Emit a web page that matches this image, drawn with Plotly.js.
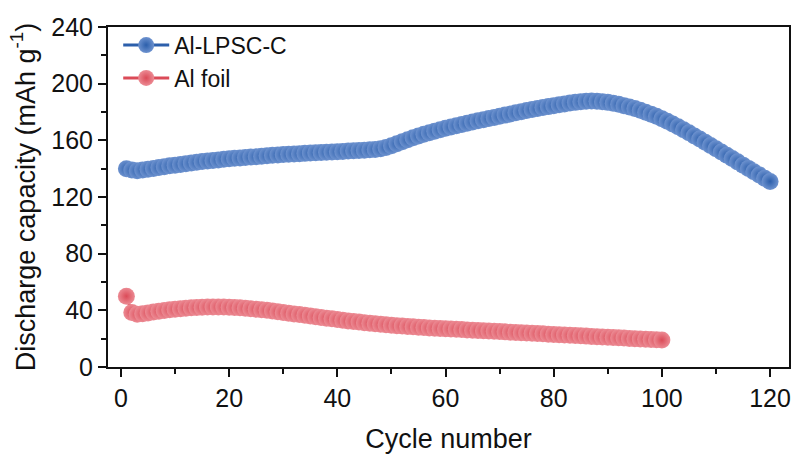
<!DOCTYPE html>
<html>
<head>
<meta charset="utf-8">
<script src="https://cdn.plot.ly/plotly-3.0.1.min.js"></script>
<style>html,body{margin:0;padding:0;background:#fff;}#chart{width:798px;height:457px;}</style>
</head>
<body>
<div id="chart"></div>
<script>
// Discharge capacity (mAh g-1) per cycle
var seriesNames = ["Al-LPSC-C", "Al foil"];
var alLpscC = [
  140, 139, 138.6, 139, 139.6, 140.2, 140.8, 141.4, 142, 142.5,
  143, 143.5, 144, 144.5, 145, 145.4, 145.8, 146.2, 146.6, 147,
  147.3, 147.6, 147.9, 148.2, 148.5, 148.8, 149.1, 149.4, 149.7, 150,
  150.2, 150.4, 150.6, 150.8, 151, 151.2, 151.4, 151.6, 151.8, 152,
  152.2, 152.4, 152.6, 152.8, 153, 153.3, 153.6, 154, 155, 156.2,
  157.6, 159, 160.4, 161.8, 163.1, 164.3, 165.4, 166.5, 167.5, 168.5,
  169.4, 170.3, 171.2, 172.1, 173, 173.8, 174.6, 175.4, 176.2, 177,
  177.8, 178.6, 179.4, 180.2, 181, 181.7, 182.4, 183.1, 183.8, 184.5,
  185.1, 185.7, 186.3, 186.8, 187.3, 187.6, 187.7, 187.6, 187.3, 186.8,
  186.2, 185.4, 184.5, 183.5, 182.4, 181.2, 179.9, 178.5, 177, 175.3,
  173.5, 171.6, 169.6, 167.5, 165.3, 163.1, 160.9, 158.6, 156.3, 154,
  151.7, 149.4, 147.1, 144.8, 142.5, 140.2, 137.9, 135.6, 133.3, 131
];
var alFoil = [
  50, 38.5, 37.2, 37.6, 38.2, 38.8, 39.4, 39.9, 40.4, 40.8,
  41.2, 41.5, 41.8, 42, 42.2, 42.3, 42.4, 42.4, 42.3, 42.2,
  42, 41.8, 41.5, 41.2, 40.8, 40.4, 40, 39.5, 39, 38.5,
  38, 37.5, 37, 36.5, 36, 35.5, 35, 34.5, 34, 33.5,
  33, 32.5, 32.1, 31.7, 31.3, 30.9, 30.5, 30.1, 29.8, 29.5,
  29.2, 28.9, 28.6, 28.4, 28.1, 27.9, 27.6, 27.4, 27.2, 27,
  26.8, 26.6, 26.4, 26.2, 26, 25.8, 25.6, 25.4, 25.2, 25,
  24.8, 24.6, 24.4, 24.2, 24, 23.8, 23.6, 23.4, 23.2, 23,
  22.8, 22.6, 22.4, 22.2, 22, 21.8, 21.6, 21.4, 21.2, 21,
  20.8, 20.6, 20.4, 20.2, 20, 19.8, 19.6, 19.4, 19.2, 19
];
var cyclesBlue = alLpscC.map(function (v, i) { return i + 1; });
var cyclesRed = alFoil.map(function (v, i) { return i + 1; });
var xTicks = [0, 20, 40, 60, 80, 100, 120];
var yTicks = [0, 40, 80, 120, 160, 200, 240];

var FONT = "Arial, 'Liberation Sans', sans-serif";

function trace(name, x, y, edge, center) {
  return {
    type: "scatter", mode: "lines+markers", name: name, x: x, y: y,
    line: {color: edge, width: 3},
    marker: {size: 17, color: center, line: {width: 0},
             gradient: {type: "radial", color: edge}},
    cliponaxis: false
  };
}

var data = [
  trace(seriesNames[0], cyclesBlue, alLpscC, "#2c5fab", "#6d92cf"),
  trace(seriesNames[1], cyclesRed, alFoil, "#db4b58", "#ec8b94")
];

var layout = {
  width: 798, height: 457,
  margin: {l: 108, r: 9, t: 27, b: 90},
  paper_bgcolor: "#fff", plot_bgcolor: "#fff",
  font: {family: FONT, color: "#111", size: 24},
  showlegend: true,
  legend: {x: 0.015, y: 1.01, xanchor: "left", yanchor: "top",
           bgcolor: "rgba(0,0,0,0)", font: {size: 23, family: FONT},
           itemwidth: 46, tracegroupgap: 0},
  xaxis: {
    range: [-2.4, 123.5], tickvals: xTicks, ticktext: xTicks.map(String),
    ticks: "outside", ticklen: 8, tickwidth: 2, tickcolor: "#111",
    minor: {dtick: 10, tick0: 0, ticks: "outside", ticklen: 5, tickwidth: 2, tickcolor: "#111"},
    showline: true, linecolor: "#111", linewidth: 2, mirror: true,
    showgrid: false, zeroline: false,
    tickfont: {size: 25, family: FONT},
    title: {text: "Cycle number", font: {size: 27, family: FONT}, standoff: 18}
  },
  yaxis: {
    range: [0, 240], tickvals: yTicks, ticktext: yTicks.map(String),
    ticks: "outside", ticklen: 8, tickwidth: 2, tickcolor: "#111",
    minor: {dtick: 20, tick0: 0, ticks: "outside", ticklen: 5, tickwidth: 2, tickcolor: "#111"},
    showline: true, linecolor: "#111", linewidth: 2, mirror: true,
    showgrid: false, zeroline: false,
    tickfont: {size: 25, family: FONT},
    title: {text: "Discharge capacity (mAh g<sup>-1</sup>)", font: {size: 27, family: FONT}, standoff: 8}
  }
};

Plotly.newPlot("chart", data, layout, {staticPlot: true, displayModeBar: false});
</script>
</body>
</html>
